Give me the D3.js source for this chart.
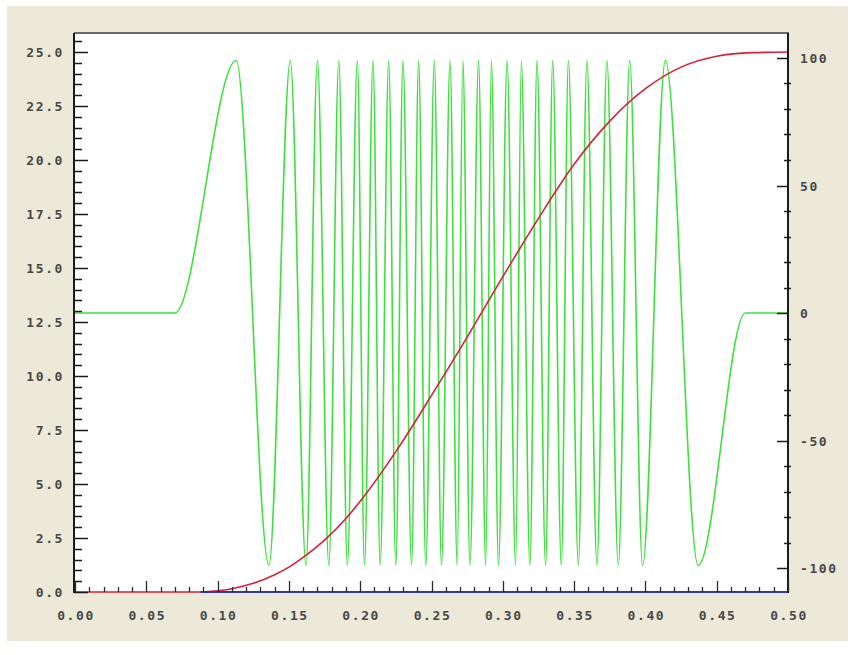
<!DOCTYPE html>
<html>
<head>
<meta charset="utf-8">
<script src="https://cdn.jsdelivr.net/npm/d3@7"></script>
<style>
    body { margin: 0; background: #ffffff; }
    text.tick { font-family: "DejaVu Sans Mono", monospace; font-weight: bold; font-size: 13px; fill: #484848; letter-spacing: 1.6px; }
</style>
</head>
<body>
<svg class="chart" width="855" height="655"></svg>
<script>
// axis labels
var xTickLabels = ["0.00", "0.05", "0.10", "0.15", "0.20", "0.25", "0.30", "0.35", "0.40", "0.45", "0.50"];
var leftTickLabels = ["0.0", "2.5", "5.0", "7.5", "10.0", "12.5", "15.0", "17.5", "20.0", "22.5", "25.0"];
var rightTickLabels = ["-100", "-50", "0", "50", "100"];

// green chirp, read as turning points (right axis)
var chirpX = [0.000, 0.070, 0.113, 0.136, 0.151, 0.162, 0.170, 0.178, 0.185, 0.191,
              0.198, 0.203, 0.209, 0.214, 0.220, 0.225, 0.230, 0.236, 0.241, 0.246,
              0.252, 0.257, 0.263, 0.268, 0.272, 0.277, 0.283, 0.288, 0.292, 0.297,
              0.303, 0.309, 0.313, 0.319, 0.324, 0.330, 0.335, 0.341, 0.346, 0.353,
              0.359, 0.366, 0.373, 0.381, 0.389, 0.398, 0.414, 0.437, 0.470, 0.500];
var chirpV = [0, 0, 99, -99, 99, -99, 99, -99, 99, -99,
              99, -99, 99, -99, 99, -99, 99, -99, 99, -99,
              99, -99, 99, -99, 99, -99, 99, -99, 99, -99,
              99, -99, 99, -99, 99, -99, 99, -99, 99, -99,
              99, -99, 99, -99, 99, -99, 99, -99, 0, 0];

// red sweep (left axis)
var sweepX = [0.000, 0.088, 0.100, 0.110, 0.125, 0.140, 0.150, 0.160, 0.175, 0.190,
              0.200, 0.225, 0.250, 0.275, 0.300, 0.325, 0.350, 0.375, 0.400, 0.425,
              0.450, 0.475, 0.500];
var sweepV = [0.0, 0.0, 0.05, 0.15, 0.4, 0.8, 1.15, 1.6, 2.4, 3.4,
              4.2, 6.5, 9.1, 11.8, 14.6, 17.3, 19.8, 21.8, 23.3, 24.3,
              24.8, 24.97, 25.0];

// blue baseline (left axis)
var baseX = [0.088, 0.500];
var baseV = [0, 0];

function ChartVis() {
    this.svgW = 855;
    this.svgH = 655;
    this.left = 75;
    this.right = 788;
    this.top = 33;
    this.bottom = 592;
}

ChartVis.prototype.getXScale = function () {
    return d3.scaleLinear()
        .domain([0, 0.5])
        .range([this.left, this.right]);
};

ChartVis.prototype.getLeftScale = function () {
    return d3.scaleLinear()
        .domain([0, 25.88])
        .range([this.bottom, this.top]);
};

ChartVis.prototype.getRightScale = function () {
    return d3.scaleLinear()
        .domain([-109.4, 109.8])
        .range([this.bottom, this.top]);
};

ChartVis.prototype.draw = function () {
    var self = this;
    var svg = d3.select("svg.chart");
    var x = self.getXScale();
    var yl = self.getLeftScale();
    var yr = self.getRightScale();

    svg.append("rect")
        .attr("x", 7).attr("y", 6)
        .attr("width", 841).attr("height", 635)
        .attr("fill", "#ece9d8");
    svg.append("rect")
        .attr("x", self.left).attr("y", self.top)
        .attr("width", self.right - self.left).attr("height", self.bottom - self.top)
        .attr("fill", "#ffffff");

    var plot = svg.append("g");
    self.drawSeries(plot, chirpX, chirpV, x, yr, "#3ee03e", 1.6, d3.curveMonotoneX);
    self.drawSeries(plot, sweepX, sweepV, x, yl, "#d8203a", 1.6, d3.curveMonotoneX);
    self.drawSeries(plot, baseX, baseV, x, yl, "#3535a5", 1.8, d3.curveLinear);

    self.drawAxes(svg, x, yl, yr);
};

ChartVis.prototype.drawSeries = function (parent, xs, vs, x, y, color, width, curve) {
    var line = d3.line()
        .x(function (d) { return x(d[0]); })
        .y(function (d) { return y(d[1]); })
        .curve(curve);
    parent.append("path")
        .datum(d3.zip(xs, vs))
        .attr("d", line)
        .attr("fill", "none")
        .attr("stroke", color)
        .attr("stroke-width", width)
        .attr("stroke-linejoin", "round");
};

ChartVis.prototype.drawAxes = function (svg, x, yl, yr) {
    var self = this;

    // frame
    svg.append("line")
        .attr("x1", self.left - 1).attr("x2", self.right + 1)
        .attr("y1", self.top).attr("y2", self.top)
        .attr("stroke", "#6a6a64").attr("stroke-width", 2);
    svg.append("line")
        .attr("x1", self.left - 1).attr("x2", self.left - 1)
        .attr("y1", self.top).attr("y2", self.bottom + 1)
        .attr("stroke", "#1a1a1a").attr("stroke-width", 2);
    svg.append("line")
        .attr("x1", self.right).attr("x2", self.right)
        .attr("y1", self.top).attr("y2", self.bottom + 1)
        .attr("stroke", "#1a1a1a").attr("stroke-width", 2);

    // bottom axis
    var xMinor = d3.range(0, 51).map(function (i) { return i / 100; });
    svg.append("g").selectAll("line")
        .data(xMinor)
        .enter().append("line")
        .attr("x1", function (d) { return Math.round(x(d)) + 0.5; })
        .attr("x2", function (d) { return Math.round(x(d)) + 0.5; })
        .attr("y1", self.bottom)
        .attr("y2", function (d, i) { return self.bottom - (i % 5 === 0 ? 11 : 5); })
        .attr("stroke", "#2a2a2a").attr("stroke-width", 1.3);
    svg.append("g").selectAll("text")
        .data(xTickLabels)
        .enter().append("text")
        .classed("tick", true)
        .attr("x", function (d) { return x(+d) + 1; })
        .attr("y", 620)
        .attr("text-anchor", "middle")
        .text(function (d) { return d; });

    // left axis
    var lMinor = d3.range(0, 52).map(function (i) { return i / 2; });
    svg.append("g").selectAll("line")
        .data(lMinor)
        .enter().append("line")
        .attr("y1", function (d) { return Math.round(yl(d)) + 0.5; })
        .attr("y2", function (d) { return Math.round(yl(d)) + 0.5; })
        .attr("x1", self.left - 1)
        .attr("x2", function (d, i) { return self.left + (i % 5 === 0 ? 13 : 7); })
        .attr("stroke", "#1a1a1a").attr("stroke-width", 1.5);
    svg.append("g").selectAll("text")
        .data(leftTickLabels)
        .enter().append("text")
        .classed("tick", true)
        .attr("x", 64)
        .attr("y", function (d) { return yl(+d) + 5; })
        .attr("text-anchor", "end")
        .text(function (d) { return d; });

    // right axis
    var rMinor = d3.range(-100, 110, 10);
    svg.append("g").selectAll("line")
        .data(rMinor)
        .enter().append("line")
        .attr("y1", function (d) { return Math.round(yr(d)) + 0.5; })
        .attr("y2", function (d) { return Math.round(yr(d)) + 0.5; })
        .attr("x1", function (d) { return self.right - (d % 50 === 0 ? 11 : 4); })
        .attr("x2", function (d) { return self.right + (d % 50 === 0 ? 0 : 3); })
        .attr("stroke", "#1a1a1a").attr("stroke-width", 1.5);
    svg.append("g").selectAll("text")
        .data(rightTickLabels)
        .enter().append("text")
        .classed("tick", true)
        .attr("x", 800)
        .attr("y", function (d) { return yr(+d) + 5; })
        .attr("text-anchor", "start")
        .text(function (d) { return d; });
};

new ChartVis().draw();
</script>
</body>
</html>
